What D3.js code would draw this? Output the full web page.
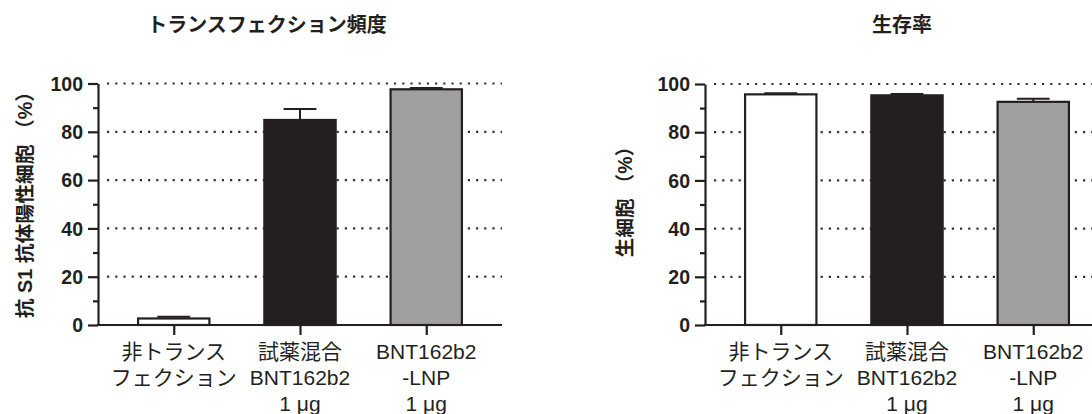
<!DOCTYPE html>
<html>
<head>
<meta charset="utf-8">
<script src="https://cdn.jsdelivr.net/npm/d3@7"></script>
<style>
  html, body { margin: 0; padding: 0; background: #fff; }
  svg { display: block; }
  text { font-family: "Liberation Sans", Arial, "Noto Sans CJK JP", sans-serif; fill: #231f20; }
</style>
</head>
<body>
<svg id="chart" width="1092" height="414"></svg>
<script>
// ---- data ----
const categories = [
  ["非トランス", "フェクション"],
  ["試薬混合", "BNT162b2", "1 μg"],
  ["BNT162b2", "-LNP", "1 μg"]
];
const transfectionMean = [2.7, 84.9, 97.6];
const transfectionErr  = [0.7, 4.5, 0.5];
const viabilityMean    = [95.7, 95.3, 92.6];
const viabilityErr     = [0.5, 0.6, 1.3];
const barColors = ["#ffffff", "#231f20", "#a0a0a0"];
const yTickValues = [0, 20, 40, 60, 80, 100];
const yMinorTickValues = [10, 30, 50, 70, 90];
const gridValues = [20, 40, 60, 80, 100];
const titles = ["トランスフェクション頻度", "生存率"];
const yLabels = ["抗 S1 抗体陽性細胞 （%）", "生細胞 （%）"];

// ---- drawing ----
const svg = d3.select("#chart");
const ink = "#231f20";

function drawPanel(cfg) {
  const g = svg.append("g");
  const x = d3.scalePoint().domain(d3.range(categories.length))
    .range([cfg.x0, cfg.x1]).padding(0.6);
  const y = d3.scaleLinear().domain([0, 100]).range([cfg.yBottom, cfg.yTop]);
  const barW = x.step() * 0.565;

  // grid lines (dotted)
  g.append("g").selectAll("line").data(gridValues).join("line")
    .attr("x1", cfg.x0 + 9).attr("x2", cfg.x1)
    .attr("y1", d => y(d)).attr("y2", d => y(d))
    .attr("stroke", "#333").attr("stroke-width", 2.2)
    .attr("stroke-dasharray", "2.2,6");

  // bars
  g.append("g").selectAll("rect").data(cfg.mean).join("rect")
    .attr("x", (d, i) => x(i) - barW / 2)
    .attr("width", barW)
    .attr("y", d => y(d))
    .attr("height", d => y(0) - y(d))
    .attr("fill", (d, i) => barColors[i])
    .attr("stroke", ink).attr("stroke-width", 2.2);

  // error bars (upper only)
  const eb = g.append("g").attr("stroke", ink).attr("stroke-width", 2);
  cfg.mean.forEach((m, i) => {
    const top = m + cfg.err[i];
    eb.append("line").attr("x1", x(i)).attr("x2", x(i)).attr("y1", y(m)).attr("y2", y(top));
    eb.append("line").attr("x1", x(i) - barW * 0.23).attr("x2", x(i) + barW * 0.23)
      .attr("y1", y(top)).attr("y2", y(top));
  });

  // y axis (major)
  const yAxis = g.append("g").attr("transform", `translate(${cfg.x0},0)`)
    .call(d3.axisLeft(y).tickValues(yTickValues).tickSize(10).tickPadding(5).tickSizeOuter(0));
  yAxis.select(".domain").attr("stroke", ink).attr("stroke-width", 2.2);
  yAxis.selectAll(".tick line").attr("stroke", ink).attr("stroke-width", 2.2);
  yAxis.selectAll(".tick text").style("font-size", "19.5px").style("font-weight", "bold")
    .attr("fill", ink).attr("dy", "0.34em");
  // y axis minor ticks
  const yMinor = g.append("g").attr("transform", `translate(${cfg.x0},0)`)
    .call(d3.axisLeft(y).tickValues(yMinorTickValues).tickSize(5).tickFormat("").tickSizeOuter(0));
  yMinor.select(".domain").remove();
  yMinor.selectAll(".tick line").attr("stroke", ink).attr("stroke-width", 2.2);

  // x axis
  const xAxis = g.append("g").attr("transform", `translate(0,${cfg.yBottom})`)
    .call(d3.axisBottom(x).tickSize(10).tickFormat("").tickSizeOuter(0));
  xAxis.select(".domain").attr("stroke", ink).attr("stroke-width", 2.2)
    .attr("d", `M${cfg.x0 - 1},0H${cfg.x1}`);
  xAxis.selectAll(".tick line").attr("stroke", ink).attr("stroke-width", 2.2);

  // category labels
  categories.forEach((lines, i) => {
    const t = g.append("text").attr("text-anchor", "middle")
      .style("font-size", "21px");
    lines.forEach((ln, j) => {
      t.append("tspan").attr("x", x(i)).attr("y", 359 + j * 26).text(ln);
    });
  });

  // title
  g.append("text").attr("x", cfg.titleX).attr("y", 32)
    .attr("text-anchor", "middle").style("font-size", "20px").style("font-weight", "bold")
    .attr("fill", "#000")
    .text(cfg.title);

  // y label
  g.append("text")
    .attr("transform", `translate(${cfg.yLabelX},${cfg.yLabelY}) rotate(-90)`)
    .attr("text-anchor", "middle").attr("dominant-baseline", "central")
    .style("font-size", cfg.yLabelSize).style("font-weight", "bold")
    .text(cfg.yLabel);
}

drawPanel({
  x0: 98, x1: 502, yTop: 83.5, yBottom: 325,
  mean: transfectionMean, err: transfectionErr,
  title: titles[0], titleX: 267,
  yLabel: yLabels[0], yLabelX: 25, yLabelY: 200, yLabelSize: "19.8px"
});
drawPanel({
  x0: 705, x1: 1109, yTop: 84, yBottom: 325,
  mean: viabilityMean, err: viabilityErr,
  title: titles[1], titleX: 902,
  yLabel: yLabels[1], yLabelX: 625, yLabelY: 197, yLabelSize: "19.5px"
});
</script>
</body>
</html>
